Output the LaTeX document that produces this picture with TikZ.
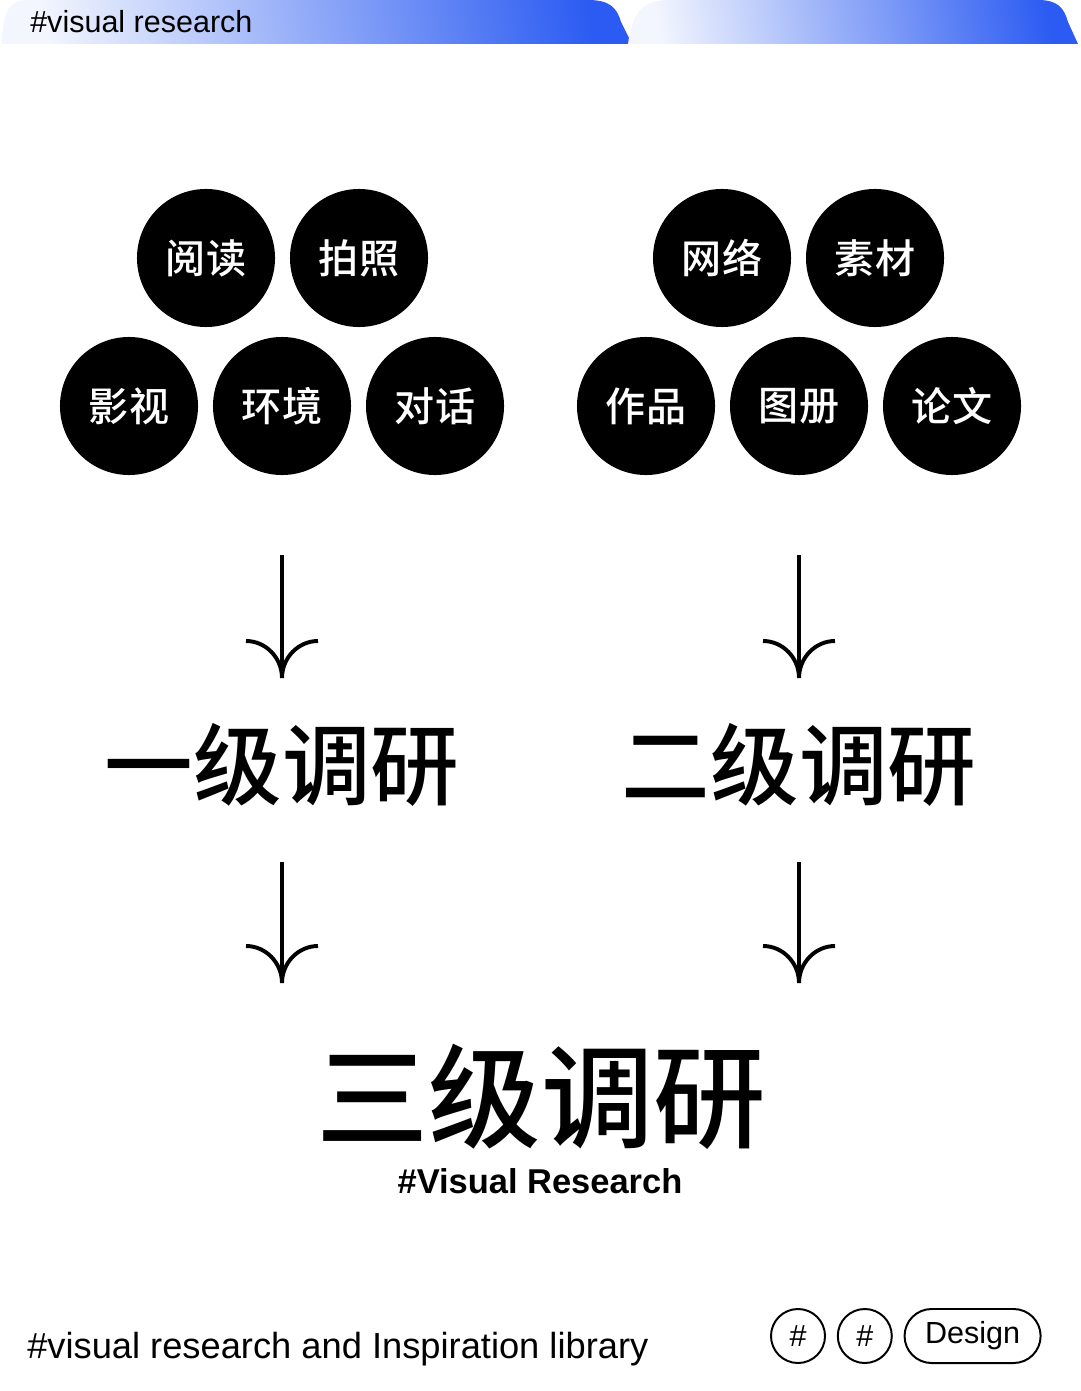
\documentclass[tikz,border=0pt]{standalone}
\usepackage{fontspec}
\setmainfont{Liberation Sans}
\newfontfamily\cjk{Noto Sans CJK SC}[BoldFont={Noto Sans CJK SC Medium}]
\usepackage{tikz}
\usetikzlibrary{positioning}
\definecolor{tabblue}{HTML}{2B5BF2}
\definecolor{tablight}{HTML}{F3F6FE}

\begin{document}
\begin{tikzpicture}[x=0.025cm, y=-0.025cm,
    bubble/.style={circle, fill=black, text=white, minimum size=3.45cm, inner sep=0pt, font=\cjk\bfseries\fontsize{28.5}{28.5}\selectfont},
    level/.style={inner sep=0pt, font=\cjk\bfseries\fontsize{#1}{#1}\selectfont},
    tag/.style={draw, line width=1.4pt, minimum height=1.35cm, inner sep=0pt, font=\fontsize{21.7}{21.7}\selectfont},
    tab/.style={left color=tablight, right color=tabblue, shading angle=100},
    barb/.style={line width=2.8pt}]
    \useasboundingbox (0,0) rectangle (1080,1391);
    \shade[tab] (2,44) .. controls (3,12) and (8,0) .. (28,0) -- (588,0) .. controls (610,0) and (617,8) .. (621,22) -- (632,44) -- cycle;
    \shade[tab] (628,44) .. controls (632,14) and (642,0) .. (668,0) -- (1038,0) .. controls (1058,0) and (1064,8) .. (1068,22) -- (1078,44) -- cycle;
    \node[anchor=west, inner sep=0pt, font=\fontsize{21.7}{21.7}\selectfont] (tabtxt) at (30,22) {\#visual research};
    \foreach \p/\t/\n in {(206,258)/阅读/read, (359,258)/拍照/photo, (129,406)/影视/film, (282,406)/环境/env, (435,406)/对话/talk,
        (722,258)/网络/web, (875,258)/素材/stock, (646,406)/作品/work, (799,406)/图册/album, (952,406)/论文/paper}
        {\node[bubble] (\n) at \p {\t};}
    \foreach \x/\ya/\yb/\n in {282/555/678/a, 799/555/678/b, 282/862/983/c, 799/862/983/d}{
        \coordinate (s\n) at (\x,\ya);
        \coordinate (e\n) at (\x,\yb);
        \draw[barb] (s\n) -- (e\n);
        \draw[barb] (e\n) .. controls +(0,-20) and +(20,0) .. +(-36,-37);
        \draw[barb] (e\n) .. controls +(0,-20) and +(-20,0) .. +(36,-37);
    }
    \node[level=63] (first) at (282,765) {一级调研};
    \node[level=63] (second) at (799,765) {二级调研};
    \node[level=80] (third) at (541,1097) {三级调研};
    \node[inner sep=0pt, font=\bfseries\fontsize{24.5}{24.5}\selectfont] (sub) at (540,1181) {\#Visual Research};
    \node[anchor=west, inner sep=0pt, font=\fontsize{25.8}{25.8}\selectfont] (foot) at (27,1349) {\#visual research and Inspiration library};
    \node[tag, circle, minimum size=1.35cm] (hashA) at (798,1336) {\#};
    \node[tag, circle, minimum size=1.35cm, right=0.27cm of hashA] (hashB) {\#};
    \node[tag, rounded corners=0.675cm, minimum width=3.4cm, right=0.27cm of hashB] (design) {Design};
\end{tikzpicture}
\end{document}
